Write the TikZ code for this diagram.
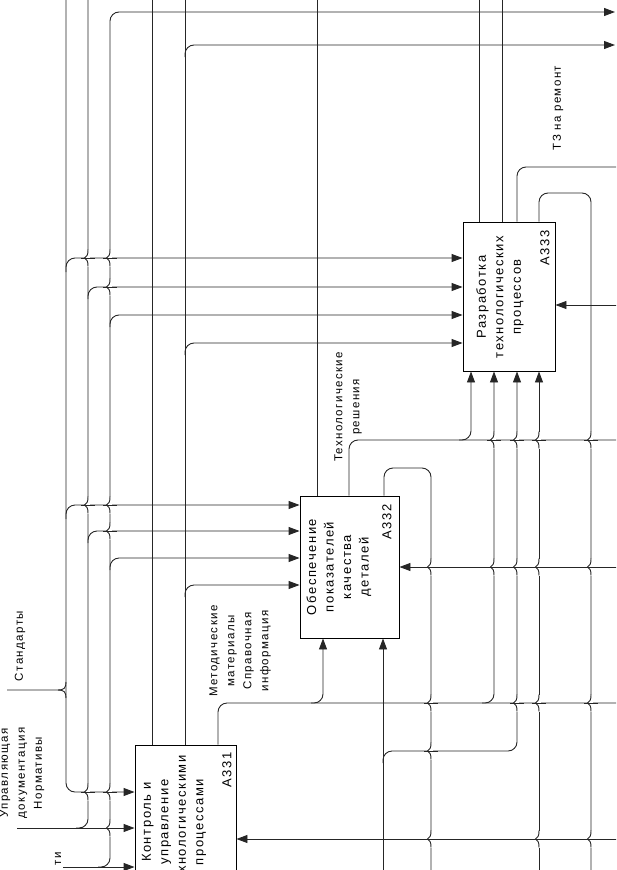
\documentclass[tikz,border=0pt]{standalone}
\usepackage{fontspec}
\setmainfont{Liberation Sans}
\newfontfamily\lblfont{Liberation Sans}[LetterSpace=12]
\newfontfamily\boxfont{Liberation Sans}[LetterSpace=12]
\usetikzlibrary{arrows.meta}
\tikzset{
  ln/.style={draw=black!85, line width=0.9pt},
  conn/.style={ln, rounded corners=9pt},
  arr/.style={-{Triangle[length=11pt,width=8pt]}},
  box/.style={draw=black, line width=0.9pt, inner sep=0pt},
  btxt/.style={rotate=90, align=center, inner sep=0pt, font=\boxfont\fontsize{13}{17.5}\selectfont},
  bid/.style={rotate=90, inner sep=0pt, font=\boxfont\fontsize{13}{15}\selectfont},
  ltxt/.style={rotate=90, align=center, inner sep=0pt, font=\lblfont\fontsize{11.5}{17}\selectfont}
}
\newcommand\jmp[2]{%
  \fill[white] ({#1-2},{#2-8.5}) rectangle ({#1+1.5},{#2+8.5});
  \draw[ln] (#1,{#2-8.5}) .. controls (#1,{#2-3}) and ({#1-1},{#2-1.5}) .. ({#1-3.5},#2) .. controls ({#1-1},{#2+1.5}) and (#1,{#2+3}) .. (#1,{#2+8.5});
  \draw[ln] ({#1-7},#2) -- ({#1+7},#2);}
\begin{document}
\begin{tikzpicture}[x=1pt,y=-1pt]
\useasboundingbox (0,0) rectangle (616,870);
\clip (0,0) rectangle (616,870);

% boxes
\node[box, minimum width=101pt, minimum height=160pt] (A331) at (185.5,825) {};
\node[box, minimum width=99pt, minimum height=142pt] (A332) at (349.5,567) {};
\node[box, minimum width=92pt, minimum height=149pt] (A333) at (509,296.5) {};

\node[btxt] (t331) at (174,822) {Контроль и\\управление\\технологическими\\процессами};
\node[btxt] (t332) at (339,567) {Обеспечение\\показателей\\качества\\деталей};
\node[btxt] (t333) at (500,297) {Разработка\\технологических\\процессов};
\node[bid] (n331) at (227,770) {A331};
\node[bid] (n332) at (387,522) {A332};
\node[bid] (n333) at (545,248) {A333};

% labels
\node[ltxt] (l1) at (20,646) {Стандарты};
\node[ltxt] (l2) at (22,773) {Управляющая\\документация\\Нормативы};
\node[ltxt, anchor=east] (l3) at (58,852) {ти};
\node[ltxt] (l4) at (240,651) {Методические\\материалы\\Справочная\\информация};
\node[ltxt] (l5) at (348,407) {Технологические\\решения};
\node[ltxt] (l6) at (558,108) {ТЗ на ремонт};

% x=66 bundle
\draw[conn,arr] (66,-5) -- (66,792) -- (A331.west |- 0,792);
\draw[conn,arr] (66,272) -- (66,258) -- (A333.west |- 0,258);
\draw[conn,arr] (66,519) -- (66,505) -- (A332.west |- 0,505);
\draw[ln] (7,690) -- (58,690) .. controls (64,690) and (66,688) .. (66,682);
\draw[ln] (58,690) .. controls (64,690) and (66,692) .. (66,698);

% x=88 bundle
\draw[conn,arr] (17,828) -- (A331.west |- 0,828);
\draw[conn] (88,-5) -- (88,828) -- (76,828);
\draw[conn,arr] (88,299) -- (88,287) -- (A333.west |- 0,287);
\draw[conn,arr] (88,543) -- (88,531) -- (A332.west |- 0,531);

% x=110 bundle
\draw[conn,arr] (63,867) -- (A331.west |- 0,867);
\draw[conn,arr] (98,867) -- (110,867) -- (110,12) -- (615,12);
\draw[conn,arr] (110,327) -- (110,315) -- (A333.west |- 0,315);
\draw[conn,arr] (110,570) -- (110,558) -- (A332.west |- 0,558);

% A331 outputs
\draw[conn] (152,0 |- A331.north) -- (152,-5);
\draw[conn] (185,0 |- A331.north) -- (185,-5);
\draw[conn,arr] (185,57) -- (185,45) -- (615,45);
\draw[conn,arr] (185,355) -- (185,343) -- (A333.west |- 0,343);
\draw[conn,arr] (185,597) -- (185,585) -- (A332.west |- 0,585);
\draw[conn] (218,0 |- A331.north) -- (218,703) -- (620,703);
\draw[conn,arr] (311,703) -- (323,703) -- (323,0 |- A332.south);
\draw[conn,arr] (482,703) -- (494,703) -- (494,0 |- A333.south);

% A332 outputs
\draw[conn] (317,0 |- A332.north) -- (317,-5);
\draw[conn] (349,0 |- A332.north) -- (349,440) -- (620,440);
\draw[conn,arr] (459,440) -- (471,440) -- (471,0 |- A333.south);
\draw[conn] (384,0 |- A332.north) -- (384,468) -- (431,468) -- (431,875);

% inputs from below
\draw[conn,arr] (383,875) -- (383,0 |- A332.south);
\draw[conn,arr] (383,763) -- (383,751) -- (517,751) -- (517,0 |- A333.south);
\draw[conn,arr] (539,875) -- (539,0 |- A333.south);

% A333 outputs
\draw[conn] (479,0 |- A333.north) -- (479,-5);
\draw[conn] (502,0 |- A333.north) -- (502,-5);
\draw[conn] (517,0 |- A333.north) -- (517,167) -- (620,167);
\draw[conn] (539,0 |- A333.north) -- (539,193) -- (591,193) -- (591,875);

% mechanisms
\draw[conn,arr] (620,305) -- (A333.east |- 0,305);
\draw[conn,arr] (620,567) -- (A332.east |- 0,567);
\draw[conn,arr] (620,839) -- (A331.east |- 0,839);

% line jumps
\jmp{88}{258} \jmp{110}{258} \jmp{110}{287}
\jmp{88}{505} \jmp{110}{505} \jmp{110}{531}
\jmp{88}{792} \jmp{110}{792} \jmp{110}{828}
\jmp{494}{440} \jmp{517}{440} \jmp{539}{440} \jmp{591}{440}
\jmp{431}{567} \jmp{494}{567} \jmp{517}{567} \jmp{539}{567} \jmp{591}{567}
\jmp{431}{703} \jmp{517}{703} \jmp{539}{703} \jmp{591}{703}
\jmp{431}{751}
\jmp{431}{839} \jmp{539}{839} \jmp{591}{839}
\end{tikzpicture}
\end{document}
